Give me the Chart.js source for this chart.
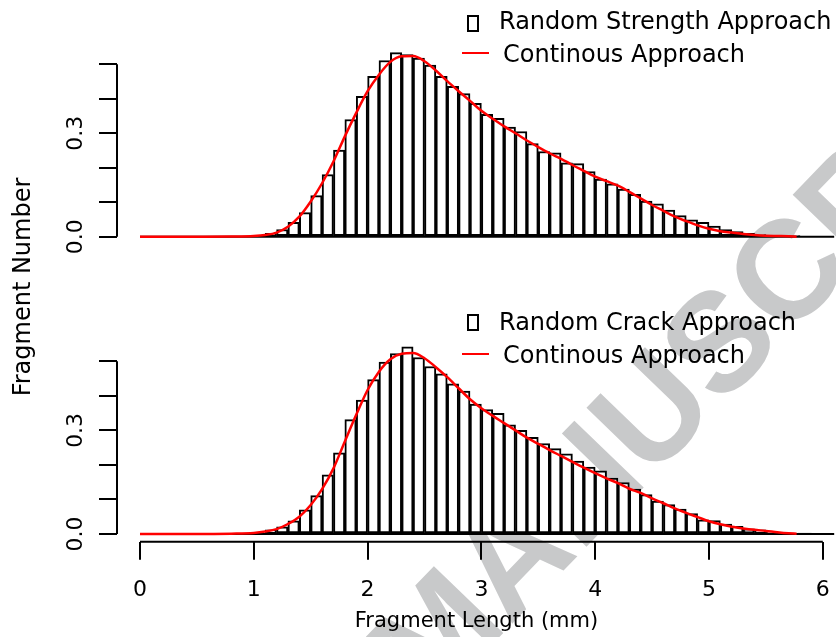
<!DOCTYPE html>
<html lang="en">
<head>
    <meta charset="UTF-8">
    <title>Fragment Length Distribution</title>
    <script src="https://cdn.jsdelivr.net/npm/chart.js"></script>
    <style>
        body {
            margin: 0;
            background: #fff;
            font-family: "DejaVu Sans", sans-serif;
        }
        .page {
            position: relative;
            width: 836px;
            height: 637px;
            overflow: hidden;
            background: #fff;
        }
        canvas {
            position: absolute;
            left: 0;
        }
        #topChart { top: 0; }
        #bottomChart { top: 290px; }
        .watermark {
            position: absolute;
            left: 429.2px;
            top: 591.7px;
            transform-origin: 0 118.5px;
            transform: rotate(-46deg);
            font: bold 140px "Liberation Sans", Arial, sans-serif;
            line-height: 140px;
            color: #c8c9ca;
            white-space: nowrap;
        }
        .legend-text {
            position: absolute;
            font-size: 24px;
            line-height: 24px;
            white-space: nowrap;
            color: #000;
        }
        .legend-box {
            position: absolute;
            width: 8px;
            height: 13px;
            border: 2px solid #000;
        }
        .legend-line {
            position: absolute;
            width: 27px;
            height: 0;
            border-top: 2.5px solid #ff0000;
        }
        .y-title {
            position: absolute;
            left: -128px;
            top: 275px;
            width: 300px;
            text-align: center;
            font-size: 24px;
            line-height: 24px;
            transform: rotate(-90deg);
            white-space: nowrap;
        }
    </style>
</head>
<body>
<div class="page">
    <div class="watermark">MANUSCRIPT</div>

    <canvas id="topChart" width="836" height="265"></canvas>
    <canvas id="bottomChart" width="836" height="347"></canvas>

    <!-- legends -->
    <div class="legend-box" style="left:467px; top:15px;"></div>
    <div class="legend-text" style="left:499px; top:9px;">Random Strength Approach</div>
    <div class="legend-line" style="left:462px; top:52px;"></div>
    <div class="legend-text" style="left:503px; top:42.4px;">Continous Approach</div>

    <div class="legend-box" style="left:467px; top:314px;"></div>
    <div class="legend-text" style="left:499px; top:309.7px;">Random Crack Approach</div>
    <div class="legend-line" style="left:462px; top:353px;"></div>
    <div class="legend-text" style="left:503px; top:343px;">Continous Approach</div>

    <div class="y-title">Fragment Number</div>
</div>

<script>
    // histogram bins (left edges, width 0.1 mm)
    const binWidth = 0.1;
    const binStarts = [
        0.0, 0.1, 0.2, 0.3, 0.4, 0.5, 0.6, 0.7, 0.8, 0.9,
        1.0, 1.1, 1.2, 1.3, 1.4, 1.5, 1.6, 1.7, 1.8, 1.9,
        2.0, 2.1, 2.2, 2.3, 2.4, 2.5, 2.6, 2.7, 2.8, 2.9,
        3.0, 3.1, 3.2, 3.3, 3.4, 3.5, 3.6, 3.7, 3.8, 3.9,
        4.0, 4.1, 4.2, 4.3, 4.4, 4.5, 4.6, 4.7, 4.8, 4.9,
        5.0, 5.1, 5.2, 5.3, 5.4, 5.5, 5.6, 5.7, 5.8, 5.9,
        6.0
    ];

    // Random Strength Approach (top panel)
    const strengthHist = [
        0, 0, 0, 0, 0, 0, 0, 0, 0, 0,
        0.002, 0.010, 0.021, 0.042, 0.070, 0.119, 0.180, 0.251, 0.340, 0.407,
        0.465, 0.511, 0.534, 0.528, 0.518, 0.498, 0.465, 0.436, 0.415, 0.387,
        0.355, 0.343, 0.318, 0.305, 0.270, 0.247, 0.243, 0.214, 0.212, 0.189,
        0.167, 0.153, 0.138, 0.123, 0.103, 0.095, 0.077, 0.061, 0.049, 0.042,
        0.031, 0.021, 0.015, 0.010, 0.006, 0.004, 0.002, 0.001, 0, 0,
        0
    ];

    // Random Crack Approach (bottom panel)
    const crackHist = [
        0, 0, 0, 0, 0, 0, 0, 0, 0, 0,
        0.003, 0.012, 0.021, 0.038, 0.070, 0.111, 0.171, 0.235, 0.331, 0.388,
        0.447, 0.498, 0.522, 0.542, 0.511, 0.485, 0.464, 0.435, 0.414, 0.376,
        0.360, 0.349, 0.316, 0.300, 0.280, 0.262, 0.247, 0.232, 0.211, 0.194,
        0.183, 0.162, 0.149, 0.130, 0.114, 0.095, 0.085, 0.072, 0.059, 0.041,
        0.039, 0.029, 0.022, 0.015, 0.012, 0.007, 0.004, 0.002, 0.001, 0,
        0
    ];

    // Continous Approach curves
    const curveX = [
        0, 0.5, 0.8, 1.0, 1.1, 1.2, 1.3, 1.4, 1.5, 1.6, 1.7, 1.8, 1.9,
        2.0, 2.1, 2.2, 2.3, 2.4, 2.5, 2.6, 2.7, 2.8, 2.9,
        3.0, 3.1, 3.2, 3.3, 3.4, 3.5, 3.6, 3.7, 3.8, 3.9,
        4.0, 4.1, 4.2, 4.3, 4.4, 4.5, 4.6, 4.7, 4.8, 4.9,
        5.0, 5.1, 5.2, 5.3, 5.4, 5.5, 5.6, 5.7, 5.77
    ];
    const strengthCurve = [
        0, 0, 0.0005, 0.002, 0.005, 0.012, 0.029, 0.058, 0.102, 0.155, 0.218, 0.291, 0.359,
        0.422, 0.470, 0.507, 0.523, 0.524, 0.509, 0.482, 0.451, 0.422, 0.394,
        0.365, 0.342, 0.320, 0.300, 0.279, 0.260, 0.242, 0.226, 0.208, 0.191,
        0.174, 0.161, 0.148, 0.130, 0.111, 0.092, 0.075, 0.058, 0.045, 0.033,
        0.023, 0.016, 0.012, 0.008, 0.005, 0.003, 0.002, 0.001, 0
    ];
    const crackCurve = [
        0, 0, 0.001, 0.003, 0.007, 0.014, 0.029, 0.050, 0.084, 0.130, 0.190, 0.268, 0.345,
        0.417, 0.470, 0.506, 0.522, 0.524, 0.509, 0.483, 0.454, 0.422, 0.390,
        0.364, 0.342, 0.321, 0.300, 0.279, 0.261, 0.243, 0.226, 0.209, 0.192,
        0.176, 0.161, 0.147, 0.131, 0.119, 0.103, 0.089, 0.074, 0.061, 0.049,
        0.037, 0.028, 0.021, 0.016, 0.012, 0.009, 0.005, 0.002, 0.001
    ];

    // axes
    const xTicks = [0, 1, 2, 3, 4, 5, 6];
    const yTicks = [0, 0.1, 0.2, 0.3, 0.4, 0.5];
    const yTickLabels = ['0.0', '', '', '0.3', '', ''];

    const fontFamily = '"DejaVu Sans", sans-serif';

    // R style axis lines: only from first to last tick
    const axisLines = {
        id: 'axisLines',
        afterDraw(chart, args, opts) {
            const { ctx, chartArea, scales } = chart;
            ctx.save();
            ctx.strokeStyle = '#000';
            ctx.lineWidth = 2;
            ctx.beginPath();
            ctx.moveTo(chartArea.left, scales.y.getPixelForValue(yTicks[0]));
            ctx.lineTo(chartArea.left, scales.y.getPixelForValue(yTicks[yTicks.length - 1]));
            if (opts.xAxis) {
                ctx.moveTo(scales.x.getPixelForValue(xTicks[0]), chartArea.bottom);
                ctx.lineTo(scales.x.getPixelForValue(xTicks[xTicks.length - 1]), chartArea.bottom);
            }
            ctx.stroke();
            ctx.restore();
        }
    };

    function makePanel(canvasId, hist, curve, showX) {
        const bars = binStarts.map((b, i) => ({ x: b + binWidth / 2, y: hist[i] }));
        const line = curveX.map((x, i) => ({ x: x, y: curve[i] }));
        const base = [
            { x: binStarts[0], y: 0 },
            { x: binStarts[binStarts.length - 1] + binWidth, y: 0 }
        ];

        const tickGrid = {
            offset: false,
            drawOnChartArea: false,
            drawTicks: true,
            tickLength: 18,
            color: '#000',
            lineWidth: 2
        };

        return new Chart(document.getElementById(canvasId), {
            type: 'bar',
            data: {
                datasets: [
                    {
                        type: 'line',
                        data: line,
                        borderColor: '#ff0000',
                        borderWidth: 2.5,
                        pointRadius: 0,
                        cubicInterpolationMode: 'monotone',
                        clip: false,
                        order: 0
                    },
                    {
                        type: 'line',
                        data: base,
                        borderColor: '#000',
                        borderWidth: 2,
                        pointRadius: 0,
                        clip: false,
                        order: 1
                    },
                    {
                        type: 'bar',
                        data: bars,
                        backgroundColor: '#fff',
                        borderColor: '#000',
                        borderWidth: 2,
                        borderSkipped: false,
                        barPercentage: 1,
                        categoryPercentage: 1,
                        clip: false,
                        order: 2
                    }
                ]
            },
            options: {
                responsive: false,
                animation: false,
                events: [],
                layout: {
                    padding: showX
                        ? { top: 71.3, bottom: 0, left: 0, right: 0 }
                        : { top: 64.3, bottom: 28.3, left: 0, right: 0 }
                },
                scales: {
                    x: {
                        type: 'linear',
                        min: -0.2021,
                        max: 6.116,
                        offset: false,
                        display: showX,
                        afterBuildTicks: s => { s.ticks = xTicks.map(v => ({ value: v })); },
                        grid: tickGrid,
                        border: { display: false },
                        ticks: {
                            color: '#000',
                            font: { family: fontFamily, size: 22 },
                            padding: 17,
                            maxRotation: 0,
                            autoSkip: false,
                            callback: v => String(v)
                        },
                        title: {
                            display: true,
                            text: 'Fragment Length (mm)',
                            color: '#000',
                            font: { family: fontFamily, size: 21 },
                            padding: { top: 0, bottom: 3 }
                        },
                        afterFit: s => {
                            if (showX) s.height = 95.3;
                            s.paddingLeft = 0;
                            s.paddingRight = 0;
                        }
                    },
                    y: {
                        type: 'linear',
                        min: showX ? -0.0223 : 0,
                        max: 0.5,
                        afterBuildTicks: s => { s.ticks = yTicks.map(v => ({ value: v })); },
                        grid: tickGrid,
                        border: { display: false },
                        ticks: {
                            color: '#000',
                            font: { family: fontFamily, size: 22 },
                            padding: 5.5,
                            minRotation: 90,
                            maxRotation: 90,
                            crossAlign: 'center',
                            autoSkip: false,
                            callback: (v, i) => yTickLabels[i]
                        },
                        afterFit: s => {
                            s.width = 117;
                            s.paddingTop = 0;
                            s.paddingBottom = 0;
                        }
                    }
                },
                plugins: {
                    legend: { display: false },
                    tooltip: { enabled: false },
                    axisLines: { xAxis: showX }
                }
            },
            plugins: [axisLines]
        });
    }

    makePanel('topChart', strengthHist, strengthCurve, false);
    makePanel('bottomChart', crackHist, crackCurve, true);
</script>
</body>
</html>
